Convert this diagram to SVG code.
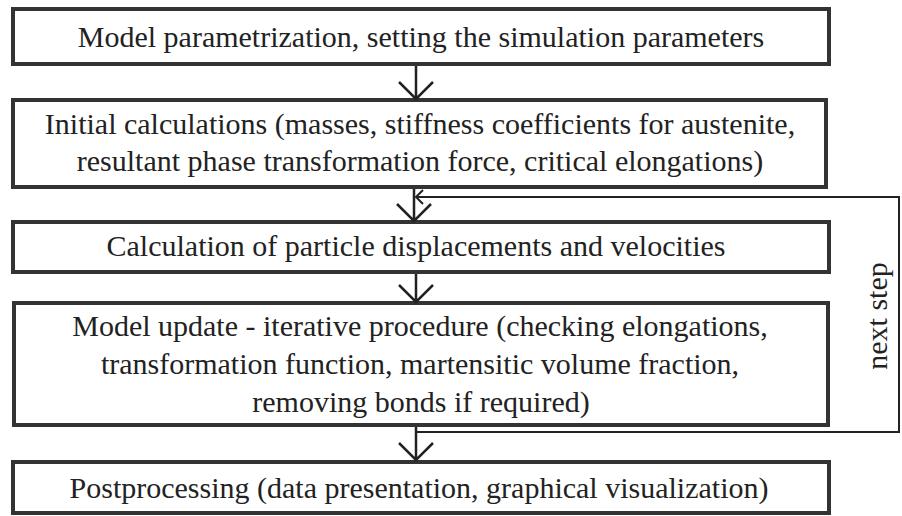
<svg xmlns="http://www.w3.org/2000/svg" width="902" height="516" viewBox="0 0 902 516">
<style>
.box{fill:#fff;stroke:#333;stroke-width:4}
.t{font-family:"Liberation Serif","Times New Roman",serif;font-size:30px;fill:#222;text-anchor:middle}
.c{fill:none;stroke:#222;stroke-width:2.5}
.fb{fill:none;stroke:#222;stroke-width:2}
</style>
<rect width="902" height="516" fill="#fff"/>
<g id="n1"><rect class="box" x="13" y="9" width="816" height="55"/><text class="t" x="421" y="47">Model parametrization, setting the simulation parameters</text></g>
<g id="n2"><rect class="box" x="13" y="100" width="813" height="87"/><text class="t" x="420" y="134">Initial calculations (masses, stiffness coefficients for austenite,</text><text class="t" x="420" y="171">resultant phase transformation force, critical elongations)</text></g>
<g id="n3"><rect class="box" x="13" y="222" width="816" height="50"/><text class="t" x="416" y="256">Calculation of particle displacements and velocities</text></g>
<g id="n4"><rect class="box" x="14" y="303" width="814" height="122"/><text class="t" x="420" y="336">Model update - iterative procedure (checking elongations,</text><text class="t" x="420" y="374">transformation function, martensitic volume fraction,</text><text class="t" x="421" y="412">removing bonds if required)</text></g>
<g id="n5"><rect class="box" x="13" y="462" width="816" height="51"/><text class="t" x="419" y="498">Postprocessing (data presentation, graphical visualization)</text></g>
<g id="connectors">
<path class="c" d="M416 66V99M399 82L416 99L433 82"/>
<path class="c" d="M414 189V221M397 204L414 221L431 204"/>
<path class="c" d="M416 274V302M399 285L416 302L433 285"/>
<path class="c" d="M416 427V460M399 443L416 460L433 443"/>
<path class="fb" d="M416 432H899V197H416M423 190L416 197L423 204"/>
</g>
<text class="t" transform="translate(887 316) rotate(-90)">next step</text>
</svg>
